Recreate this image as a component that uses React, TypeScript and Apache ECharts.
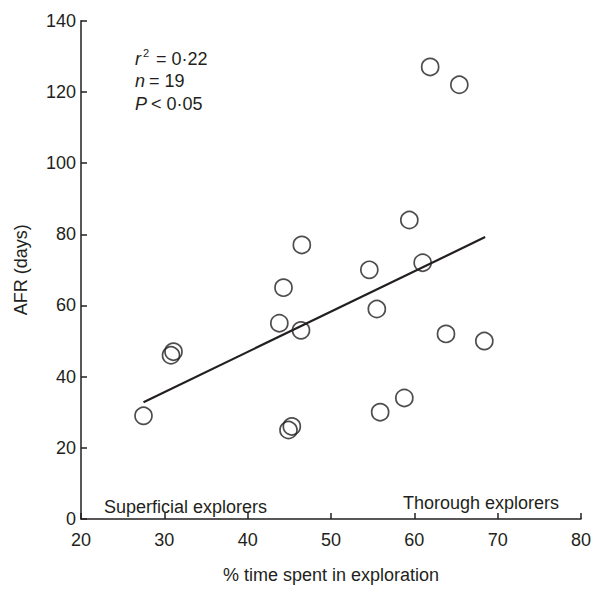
import React, { useEffect, useRef } from "react";
import * as echarts from "echarts";

const explorationPct = [27.5, 30.8, 31.1, 43.8, 44.3, 44.9, 45.3, 46.4, 46.5, 54.6, 55.5, 55.9, 58.8, 59.4, 61.0, 61.9, 63.8, 65.4, 68.4];
const afrDays = [29, 46, 47, 55, 65, 25, 26, 53, 77, 70, 59, 30, 34, 84, 72, 127, 52, 122, 50];
const fitLine = [
  [27.5, 32.8],
  [68.5, 79.2],
];
const xTicks = { min: 20, max: 80, interval: 10 };
const yTicks = { min: 0, max: 140, interval: 20 };

const INK = "#231f20";
const FONT = "'Liberation Sans', Arial, sans-serif";
const FS = 18;

export default function App() {
  const ref = useRef<HTMLDivElement>(null);
  useEffect(() => {
    if (!ref.current) return;
    const chart = echarts.init(ref.current, null, { renderer: "svg" });
    const points = explorationPct.map((x, i) => [x, afrDays[i]]);
    const txt = (x: number, y: number, text: string, italic = false, size = FS) => ({
      type: "text",
      x,
      y,
      style: {
        text,
        font: `${italic ? "italic " : ""}${size}px ${FONT}`,
        fill: INK,
        verticalAlign: "middle",
        align: "left",
      },
    });
    chart.setOption({
      animation: false,
      textStyle: { fontFamily: FONT, color: INK },
      grid: { left: 81, right: 9, top: 20.7, bottom: 65.7, containLabel: false },
      xAxis: {
        type: "value",
        min: xTicks.min,
        max: xTicks.max,
        interval: xTicks.interval,
        name: "% time spent in exploration",
        nameLocation: "middle",
        nameGap: 47,
        nameTextStyle: { fontSize: FS, color: INK, fontFamily: FONT },
        axisLine: { show: true, lineStyle: { color: INK, width: 1.5 } },
        axisTick: { show: true, inside: true, length: 6, lineStyle: { color: INK, width: 1.5 } },
        axisLabel: { fontSize: FS, color: INK, margin: 12, fontFamily: FONT },
        splitLine: { show: false },
      },
      yAxis: {
        type: "value",
        min: yTicks.min,
        max: yTicks.max,
        interval: yTicks.interval,
        name: "AFR (days)",
        nameLocation: "middle",
        nameGap: 51,
        nameTextStyle: { fontSize: FS, color: INK, fontFamily: FONT },
        axisLine: { show: true, lineStyle: { color: INK, width: 1.5 } },
        axisTick: { show: true, inside: true, length: 6, lineStyle: { color: INK, width: 1.5 } },
        axisLabel: { fontSize: FS, color: INK, margin: 5, fontFamily: FONT },
        splitLine: { show: false },
      },
      series: [
        {
          type: "line",
          data: fitLine,
          symbol: "none",
          lineStyle: { color: INK, width: 2.2 },
          z: 2,
        },
        {
          type: "scatter",
          data: points,
          symbol: "circle",
          symbolSize: 17,
          itemStyle: { color: "rgba(0,0,0,0)", borderColor: INK, borderWidth: 1.7 },
          z: 3,
        },
      ],
      graphic: [
        txt(135, 58.5, "r", true),
        txt(143, 53, "2", false, 11),
        txt(156, 58.5, "= 0·22"),
        txt(135, 81, "n", true),
        txt(149, 81, "= 19"),
        txt(135, 103.5, "P", true),
        txt(151, 103.5, "< 0·05"),
        txt(104, 506.7, "Superficial explorers"),
        txt(403, 502.7, "Thorough explorers"),
      ],
    });
    return () => chart.dispose();
  }, []);
  return <div ref={ref} style={{ position: "absolute", left: 0, top: 0, width: 594, height: 589 }} />;
}
